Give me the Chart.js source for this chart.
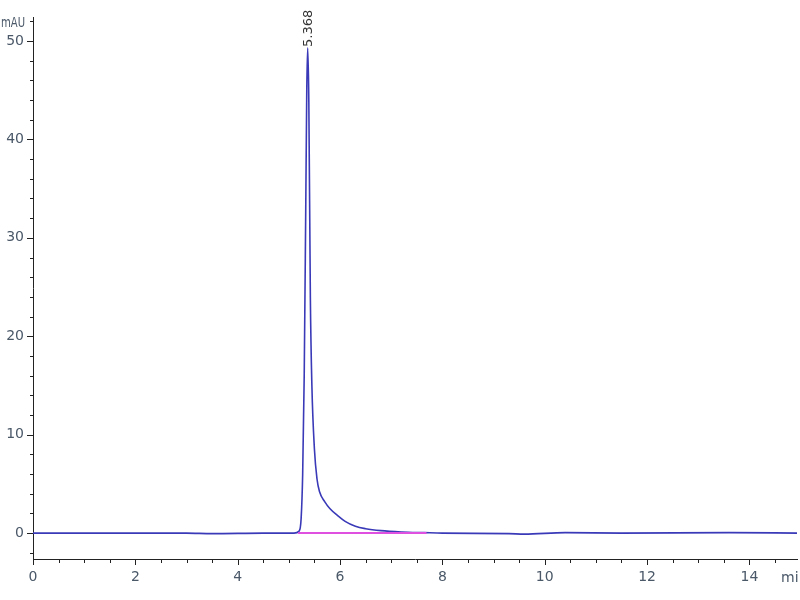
<!DOCTYPE html>
<html>
<head>
<meta charset="utf-8">
<script src="https://cdn.jsdelivr.net/npm/chart.js@4"></script>
<style>
  html, body { margin: 0; padding: 0; background: #ffffff; }
  #wrap { width: 800px; height: 600px; }
</style>
</head>
<body>
<div id="wrap"><canvas id="hplcChart" width="800" height="600"></canvas></div>
<script>
// retention time (min) and signal (mAU)
const timeMin = [0, 1.0, 2.0, 3.0, 3.5, 4.5, 5.1, 5.2, 5.24, 5.27, 5.3, 5.33, 5.35, 5.368,
  5.39, 5.42, 5.45, 5.5, 5.55, 5.6, 5.7, 5.8, 5.95, 6.1, 6.3, 6.5, 6.8, 7.2, 7.65, 8.0,
  9.3, 9.6, 10.4, 11.5, 13.6, 14.93];
const signalMAU = [0, 0, 0, 0, -0.05, 0, 0, 0.2, 1.5, 6, 16, 33, 45, 49.3,
  44, 24, 15, 8.5, 5.5, 4.2, 3.2, 2.5, 1.8, 1.2, 0.7, 0.45, 0.25, 0.12, 0.05, 0,
  -0.05, -0.1, 0.05, 0, 0.05, 0];

// integration baseline (pink)
const baseTime = [5.18, 7.69];
const baseMAU = [0, 0];

const peakTime = 5.368;
const peakValue = 49.3;
const peakLabel = '5.368';

const xMajor = [0, 2, 4, 6, 8, 10, 12, 14];
const yMajor = [0, 10, 20, 30, 40, 50];

const textColor = '#4a5868';
const fontFam = '"DejaVu Sans", sans-serif';

function pairs(xs, ys) {
  return xs.map((x, i) => ({ x: x, y: ys[i] }));
}

// tick marks (minor + major) and extra labels drawn on the scales
const axisDecor = {
  id: 'axisDecor',
  afterDraw(chart) {
    const c = chart.ctx;
    const xs = chart.scales.x, ys = chart.scales.y;
    const area = chart.chartArea;
    c.save();
    c.strokeStyle = '#222';
    c.lineWidth = 1;
    c.beginPath();
    for (let v = 0; v <= 14.9; v += 0.5) {
      const px = Math.round(xs.getPixelForValue(v)) + 0.5;
      const major = Math.abs(v % 2) < 1e-6;
      c.moveTo(px, area.bottom);
      c.lineTo(px, area.bottom + (major ? 6 : 4));
    }
    for (let v = -2; v <= 52; v += 2) {
      const py = Math.round(ys.getPixelForValue(v)) + 0.5;
      const major = v % 10 === 0;
      c.moveTo(area.left, py);
      c.lineTo(area.left - (major ? 6 : 3), py);
    }
    c.stroke();

    c.fillStyle = textColor;
    c.font = '14px ' + fontFam;
    c.textAlign = 'left';
    c.textBaseline = 'middle';
    c.fillText('mAU', 1, 23, 24);
    c.fillText('mi', 781, 578);

    // peak retention label, rotated
    const px = xs.getPixelForValue(peakTime);
    const py = ys.getPixelForValue(peakValue);
    c.translate(px + 1, py - 1);
    c.rotate(-Math.PI / 2);
    c.fillStyle = '#333';
    c.font = '13px ' + fontFam;
    c.textAlign = 'left';
    c.textBaseline = 'middle';
    c.fillText(peakLabel, 0, 0);
    c.restore();
  }
};

const ctx = document.getElementById('hplcChart');

new Chart(ctx, {
  type: 'line',
  data: {
    datasets: [
      {
        label: 'baseline',
        data: pairs(baseTime, baseMAU),
        borderColor: '#e050e0',
        borderWidth: 2,
        pointRadius: 0,
        fill: false
      },
      {
        label: 'signal',
        data: pairs(timeMin, signalMAU),
        borderColor: '#3a3ab8',
        borderWidth: 1.6,
        pointRadius: 0,
        cubicInterpolationMode: 'monotone',
        fill: false
      }
    ]
  },
  plugins: [axisDecor],
  options: {
    responsive: false,
    animation: false,
    layout: { padding: { top: 15, right: 3, left: 0, bottom: 0 } },
    plugins: {
      legend: { display: false },
      tooltip: { enabled: false }
    },
    scales: {
      x: {
        type: 'linear',
        min: 0,
        max: 14.93,
        afterBuildTicks: (s) => { s.ticks = xMajor.map(v => ({ value: v })); },
        afterFit: (s) => { s.height = 41; },
        grid: { drawOnChartArea: false, drawTicks: false },
        border: { color: '#222', width: 1 },
        ticks: {
          color: textColor,
          font: { family: fontFam, size: 14 },
          padding: 10,
          maxRotation: 0
        }
      },
      y: {
        type: 'linear',
        min: -2.63,
        max: 52.4,
        afterBuildTicks: (s) => { s.ticks = yMajor.map(v => ({ value: v })); },
        afterFit: (s) => { s.width = 33; },
        grid: { drawOnChartArea: false, drawTicks: false },
        border: { color: '#222', width: 1 },
        ticks: {
          color: textColor,
          font: { family: fontFam, size: 14 },
          padding: 9
        }
      }
    }
  }
});
</script>
</body>
</html>
